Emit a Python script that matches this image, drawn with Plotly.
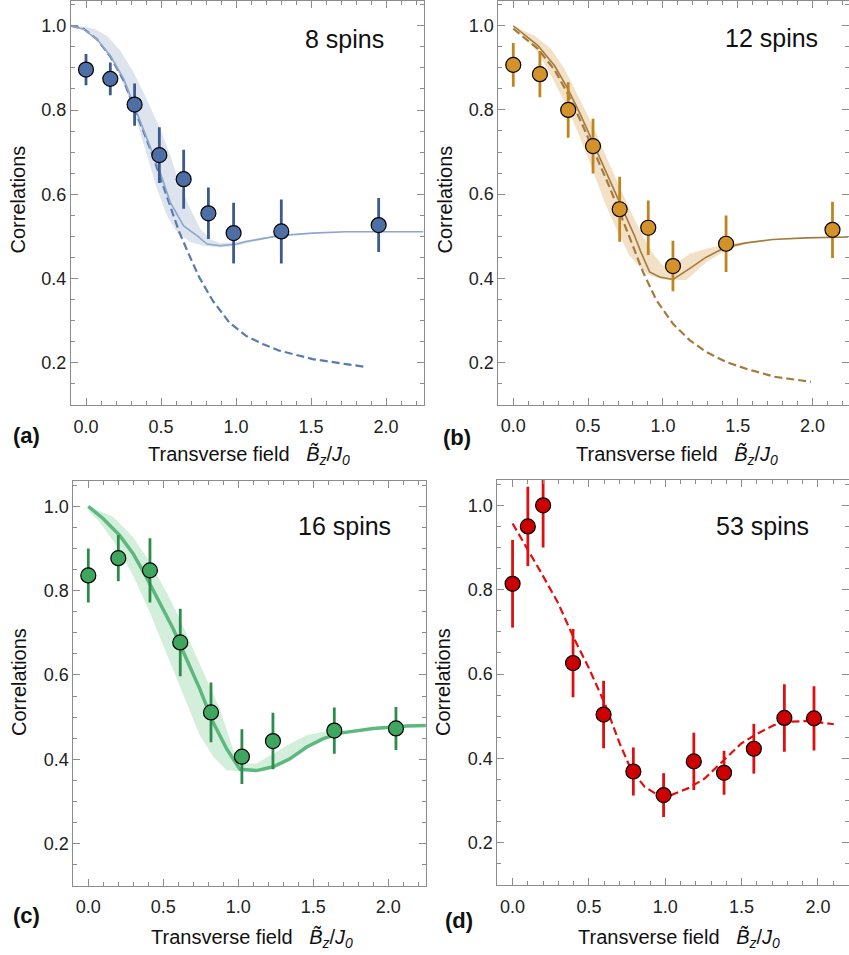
import plotly.graph_objects as go

W, H = 849, 955

# ---------------- (a) 8 spins ----------------
a_x = [0.0, 0.162, 0.324, 0.489, 0.651, 0.816, 0.984, 1.302, 1.951]
a_y = [0.896, 0.874, 0.813, 0.693, 0.636, 0.555, 0.508, 0.512, 0.527]
a_err = [0.037, 0.039, 0.050, 0.066, 0.070, 0.061, 0.072, 0.076, 0.064]

a_sol_x = [-0.1, -0.016, 0.073, 0.162, 0.251, 0.34, 0.429, 0.495, 0.562, 0.651, 0.74,
           0.807, 0.895, 1.006, 1.067, 1.229, 1.289, 1.511, 1.733, 2.25]
a_sol_y = [1.0, 0.992, 0.968, 0.929, 0.874, 0.794, 0.715, 0.652, 0.581, 0.525, 0.502,
           0.482, 0.478, 0.482, 0.488, 0.498, 0.502, 0.508, 0.511, 0.511]

a_dash_x = [-0.1, -0.016, 0.073, 0.162, 0.251, 0.34, 0.429, 0.495, 0.562, 0.622, 0.689,
            0.755, 0.844, 0.955, 1.067, 1.178, 1.289, 1.511, 1.733, 1.855]
a_dash_y = [1.0, 0.993, 0.968, 0.927, 0.870, 0.789, 0.707, 0.640, 0.570, 0.510, 0.455,
            0.403, 0.348, 0.296, 0.264, 0.245, 0.229, 0.209, 0.197, 0.191]

a_band_hi_x = [-0.1, -0.02, 0.062, 0.14, 0.229, 0.318, 0.404, 0.495, 0.562, 0.629, 0.696,
               0.762, 0.829, 0.895, 1.0, 1.2]
a_band_hi_y = [1.0, 0.998, 0.992, 0.976, 0.941, 0.889, 0.826, 0.755, 0.692, 0.620, 0.565,
               0.518, 0.494, 0.484, 0.486, 0.499]
a_band_lo_x = [-0.1, 0.029, 0.118, 0.207, 0.273, 0.340, 0.407, 0.473, 0.540, 0.607, 0.696,
               0.784, 0.895, 1.0, 1.2]
a_band_lo_y = [1.0, 0.984, 0.953, 0.897, 0.842, 0.771, 0.692, 0.613, 0.549, 0.510, 0.486,
               0.478, 0.474, 0.478, 0.494]

# ---------------- (b) 12 spins ----------------
b_x = [0.0, 0.178, 0.367, 0.533, 0.711, 0.902, 1.067, 1.422, 2.133]
b_y = [0.907, 0.885, 0.800, 0.714, 0.564, 0.520, 0.429, 0.482, 0.515]
b_err = [0.052, 0.055, 0.066, 0.065, 0.077, 0.065, 0.060, 0.067, 0.067]

b_sol_x = [0.0, 0.165, 0.276, 0.365, 0.453, 0.543, 0.631, 0.72, 0.809, 0.853, 0.911,
           0.978, 1.067, 1.178, 1.289, 1.422, 1.556, 1.733, 1.956, 2.24]
b_sol_y = [1.0, 0.953, 0.905, 0.850, 0.786, 0.715, 0.644, 0.573, 0.502, 0.462, 0.415,
           0.403, 0.397, 0.423, 0.450, 0.474, 0.484, 0.492, 0.496, 0.498]

b_dash_x = [0.0, 0.165, 0.276, 0.365, 0.453, 0.543, 0.631, 0.72, 0.809, 0.867, 0.956,
            1.067, 1.178, 1.289, 1.422, 1.556, 1.744, 1.989]
b_dash_y = [0.993, 0.945, 0.895, 0.838, 0.772, 0.700, 0.627, 0.549, 0.470, 0.415, 0.348,
            0.292, 0.253, 0.225, 0.201, 0.185, 0.166, 0.154]

b_band_hi_x = [0.0, 0.143, 0.253, 0.343, 0.431, 0.52, 0.609, 0.698, 0.787, 0.876, 0.943,
               1.0, 1.067, 1.178, 1.289, 1.422, 1.556]
b_band_hi_y = [1.0, 0.976, 0.945, 0.897, 0.834, 0.771, 0.699, 0.628, 0.557, 0.494, 0.454,
               0.430, 0.430, 0.458, 0.470, 0.480, 0.486]
b_band_lo_x = [0.0, 0.076, 0.165, 0.253, 0.343, 0.431, 0.52, 0.609, 0.698, 0.776, 0.845,
               0.911, 1.0, 1.067, 1.156, 1.2, 1.289, 1.422, 1.556]
b_band_lo_y = [0.995, 0.972, 0.937, 0.881, 0.818, 0.747, 0.668, 0.581, 0.510, 0.454, 0.427,
               0.407, 0.397, 0.395, 0.396, 0.410, 0.438, 0.466, 0.482]

# ---------------- (c) 16 spins ----------------
c_x = [0.0, 0.2, 0.411, 0.613, 0.818, 1.024, 1.231, 1.640, 2.051]
c_y = [0.836, 0.877, 0.848, 0.677, 0.511, 0.406, 0.443, 0.468, 0.473]
c_err = [0.064, 0.055, 0.076, 0.080, 0.071, 0.065, 0.067, 0.055, 0.051]

c_sol_x = [0.0, 0.098, 0.209, 0.298, 0.387, 0.476, 0.565, 0.653, 0.743, 0.831, 0.922,
           1.011, 1.122, 1.233, 1.344, 1.456, 1.567, 1.678, 1.9, 2.122, 2.26]
c_sol_y = [1.0, 0.971, 0.931, 0.888, 0.832, 0.773, 0.710, 0.639, 0.567, 0.488, 0.425,
           0.376, 0.373, 0.382, 0.401, 0.429, 0.449, 0.462, 0.473, 0.479, 0.480]

c_band_hi_x = [0.0, 0.165, 0.298, 0.409, 0.52, 0.609, 0.698, 0.787, 0.876, 0.92, 0.967,
               1.056, 1.122, 1.233, 1.344, 1.456, 1.567, 1.65]
c_band_hi_y = [1.0, 0.975, 0.927, 0.868, 0.797, 0.734, 0.662, 0.591, 0.520, 0.473, 0.421,
               0.390, 0.390, 0.413, 0.437, 0.457, 0.465, 0.468]
c_band_lo_x = [0.0, 0.076, 0.187, 0.298, 0.409, 0.52, 0.609, 0.698, 0.743, 0.833, 0.922,
               1.0, 1.122, 1.233, 1.344, 1.456, 1.567, 1.65]
c_band_lo_y = [0.99, 0.963, 0.907, 0.836, 0.749, 0.654, 0.575, 0.496, 0.457, 0.406, 0.374,
               0.372, 0.372, 0.378, 0.397, 0.425, 0.447, 0.462]

# ---------------- (d) 53 spins ----------------
d_x = [0.0, 0.1, 0.2, 0.396, 0.596, 0.791, 0.989, 1.187, 1.385, 1.580, 1.780, 1.974]
d_y = [0.814, 0.950, 1.000, 0.626, 0.504, 0.369, 0.313, 0.393, 0.366, 0.423, 0.496, 0.495]
d_err = [0.104, 0.094, 0.100, 0.081, 0.080, 0.057, 0.052, 0.068, 0.052, 0.059, 0.080, 0.076]

d_dash_x = [0.0, 0.104, 0.191, 0.3, 0.398, 0.496, 0.604, 0.702, 0.778, 0.865, 0.952,
            1.039, 1.148, 1.257, 1.387, 1.496, 1.604, 1.713, 1.822, 1.93, 2.104]
d_dash_y = [0.957, 0.893, 0.838, 0.767, 0.688, 0.617, 0.530, 0.435, 0.372, 0.333, 0.313,
            0.313, 0.329, 0.352, 0.396, 0.435, 0.459, 0.479, 0.487, 0.489, 0.481]

panel_tags = ["(a)", "(b)", "(c)", "(d)"]
spin_labels = ["8 spins", "12 spins", "16 spins", "53 spins"]
x_title = ("Transverse field\u00a0\u00a0\u00a0<i>B\u0303</i><sub><i>z</i></sub>"
           "/<i>J</i><sub><i>0</i></sub>")
y_title = "Correlations"

FONT = "Liberation Sans, Arial, sans-serif"
FRAME = "#8c8c8c"
DASH = "8px,4px"


def px(x):
    return x / W


def py(y):
    return 1 - y / H


fig = go.Figure()


def band(ax, hx, hy, lx, ly, color):
    fig.add_trace(go.Scatter(
        x=list(hx) + list(lx)[::-1], y=list(hy) + list(ly)[::-1],
        fill="toself", fillcolor=color, line=dict(width=0), mode="lines",
        hoverinfo="skip", showlegend=False, xaxis="x" + ax, yaxis="y" + ax))


def curve(ax, x, y, color, width, dash="solid"):
    fig.add_trace(go.Scatter(
        x=x, y=y, mode="lines", line=dict(color=color, width=width, dash=dash),
        showlegend=False, xaxis="x" + ax, yaxis="y" + ax))


def points(ax, x, y, err, fill, bar):
    fig.add_trace(go.Scatter(
        x=x, y=y, mode="markers",
        marker=dict(size=15, color=fill, line=dict(color="black", width=1.2)),
        error_y=dict(type="data", array=err, visible=True, color=bar, thickness=2.8, width=0),
        showlegend=False, xaxis="x" + ax, yaxis="y" + ax))


# (a)
band("", a_band_hi_x, a_band_hi_y, a_band_lo_x, a_band_lo_y, "#dde4ee")
curve("", a_dash_x, a_dash_y, "#587bb0", 2.2, DASH)
curve("", a_sol_x, a_sol_y, "#8ea6cc", 1.6)
points("", a_x, a_y, a_err, "#4e6fa6", "#3d5a8c")
# (b)
band("2", b_band_hi_x, b_band_hi_y, b_band_lo_x, b_band_lo_y, "#f2e1c6")
curve("2", b_dash_x, b_dash_y, "#a67a3c", 2.2, DASH)
curve("2", b_sol_x, b_sol_y, "#a67a3c", 1.6)
points("2", b_x, b_y, b_err, "#d4922a", "#c0841f")
# (c)
band("3", c_band_hi_x, c_band_hi_y, c_band_lo_x, c_band_lo_y, "#d3eedb")
curve("3", c_sol_x, c_sol_y, "#5cb87c", 3.5)
points("3", c_x, c_y, c_err, "#3fa660", "#2e8a4d")
# (d)
curve("4", d_dash_x, d_dash_y, "#e01010", 2.2, DASH)
points("4", d_x, d_y, d_err, "#cc0000", "#dd1010")

# panel frames in pixel units: left, right, top, bottom
frames = [(71, 423.5, 0.5, 405), (498.3, 848.5, 0.5, 404.5),
          (73.3, 425.8, 481, 885.7), (497.3, 848.5, 480, 885)]
xranges = [[-0.1, 2.25], [-0.1, 2.24], [-0.1, 2.25], [-0.1, 2.2]]

axis_common = dict(
    showline=True, linecolor=FRAME, linewidth=1, mirror="allticks",
    ticks="inside", ticklen=7, tickwidth=1, tickcolor=FRAME,
    showgrid=False, zeroline=False, automargin=False,
    tickfont=dict(family=FONT, size=18, color="#222"),
)

layout = dict(
    width=W, height=H, margin=dict(l=0, r=0, t=0, b=0),
    paper_bgcolor="white", plot_bgcolor="white", template="none",
    showlegend=False,
)
for i, (l, r, t, b) in enumerate(frames):
    suffix = "" if i == 0 else str(i + 1)
    layout["xaxis" + suffix] = dict(
        axis_common, domain=[px(l), px(r)], range=xranges[i],
        anchor="y" + suffix, tick0=0, dtick=0.5, tickformat=".1f", ticklabelstandoff=5,
        minor=dict(ticks="inside", ticklen=4, dtick=0.1, tick0=0, tickcolor=FRAME, showgrid=False),
    )
    layout["yaxis" + suffix] = dict(
        axis_common, domain=[py(b), py(t)], range=[0.1, 1.06],
        anchor="x" + suffix, tick0=0, dtick=0.2, tickformat=".1f",
        minor=dict(ticks="inside", ticklen=4, dtick=0.05, tick0=0, tickcolor=FRAME, showgrid=False),
    )

annotations = []
tag_pos = [(27, 435), (457, 437), (27, 915), (459, 920)]
spin_pos = [(344, 39), (771, 38), (344, 526), (762, 526)]
ytitle_pos = [(17.5, 200), (444.5, 199), (19, 682), (443, 682)]
xtitle_pos = [(249, 455), (677, 455), (252, 938), (679, 938)]


def note(text, pos, size, angle=0):
    annotations.append(dict(text=text, x=px(pos[0]), y=py(pos[1]), xref="paper", yref="paper",
                            xanchor="center", yanchor="middle", showarrow=False, textangle=angle,
                            font=dict(family=FONT, size=size, color="#111")))


for i in range(4):
    note("<b>%s</b>" % panel_tags[i], tag_pos[i], 22)
    note(spin_labels[i], spin_pos[i], 25)
    note(y_title, ytitle_pos[i], 20, -90)
    note(x_title, xtitle_pos[i], 20)
layout["annotations"] = annotations

fig.update_layout(**layout)
fig.write_html("out.html")
